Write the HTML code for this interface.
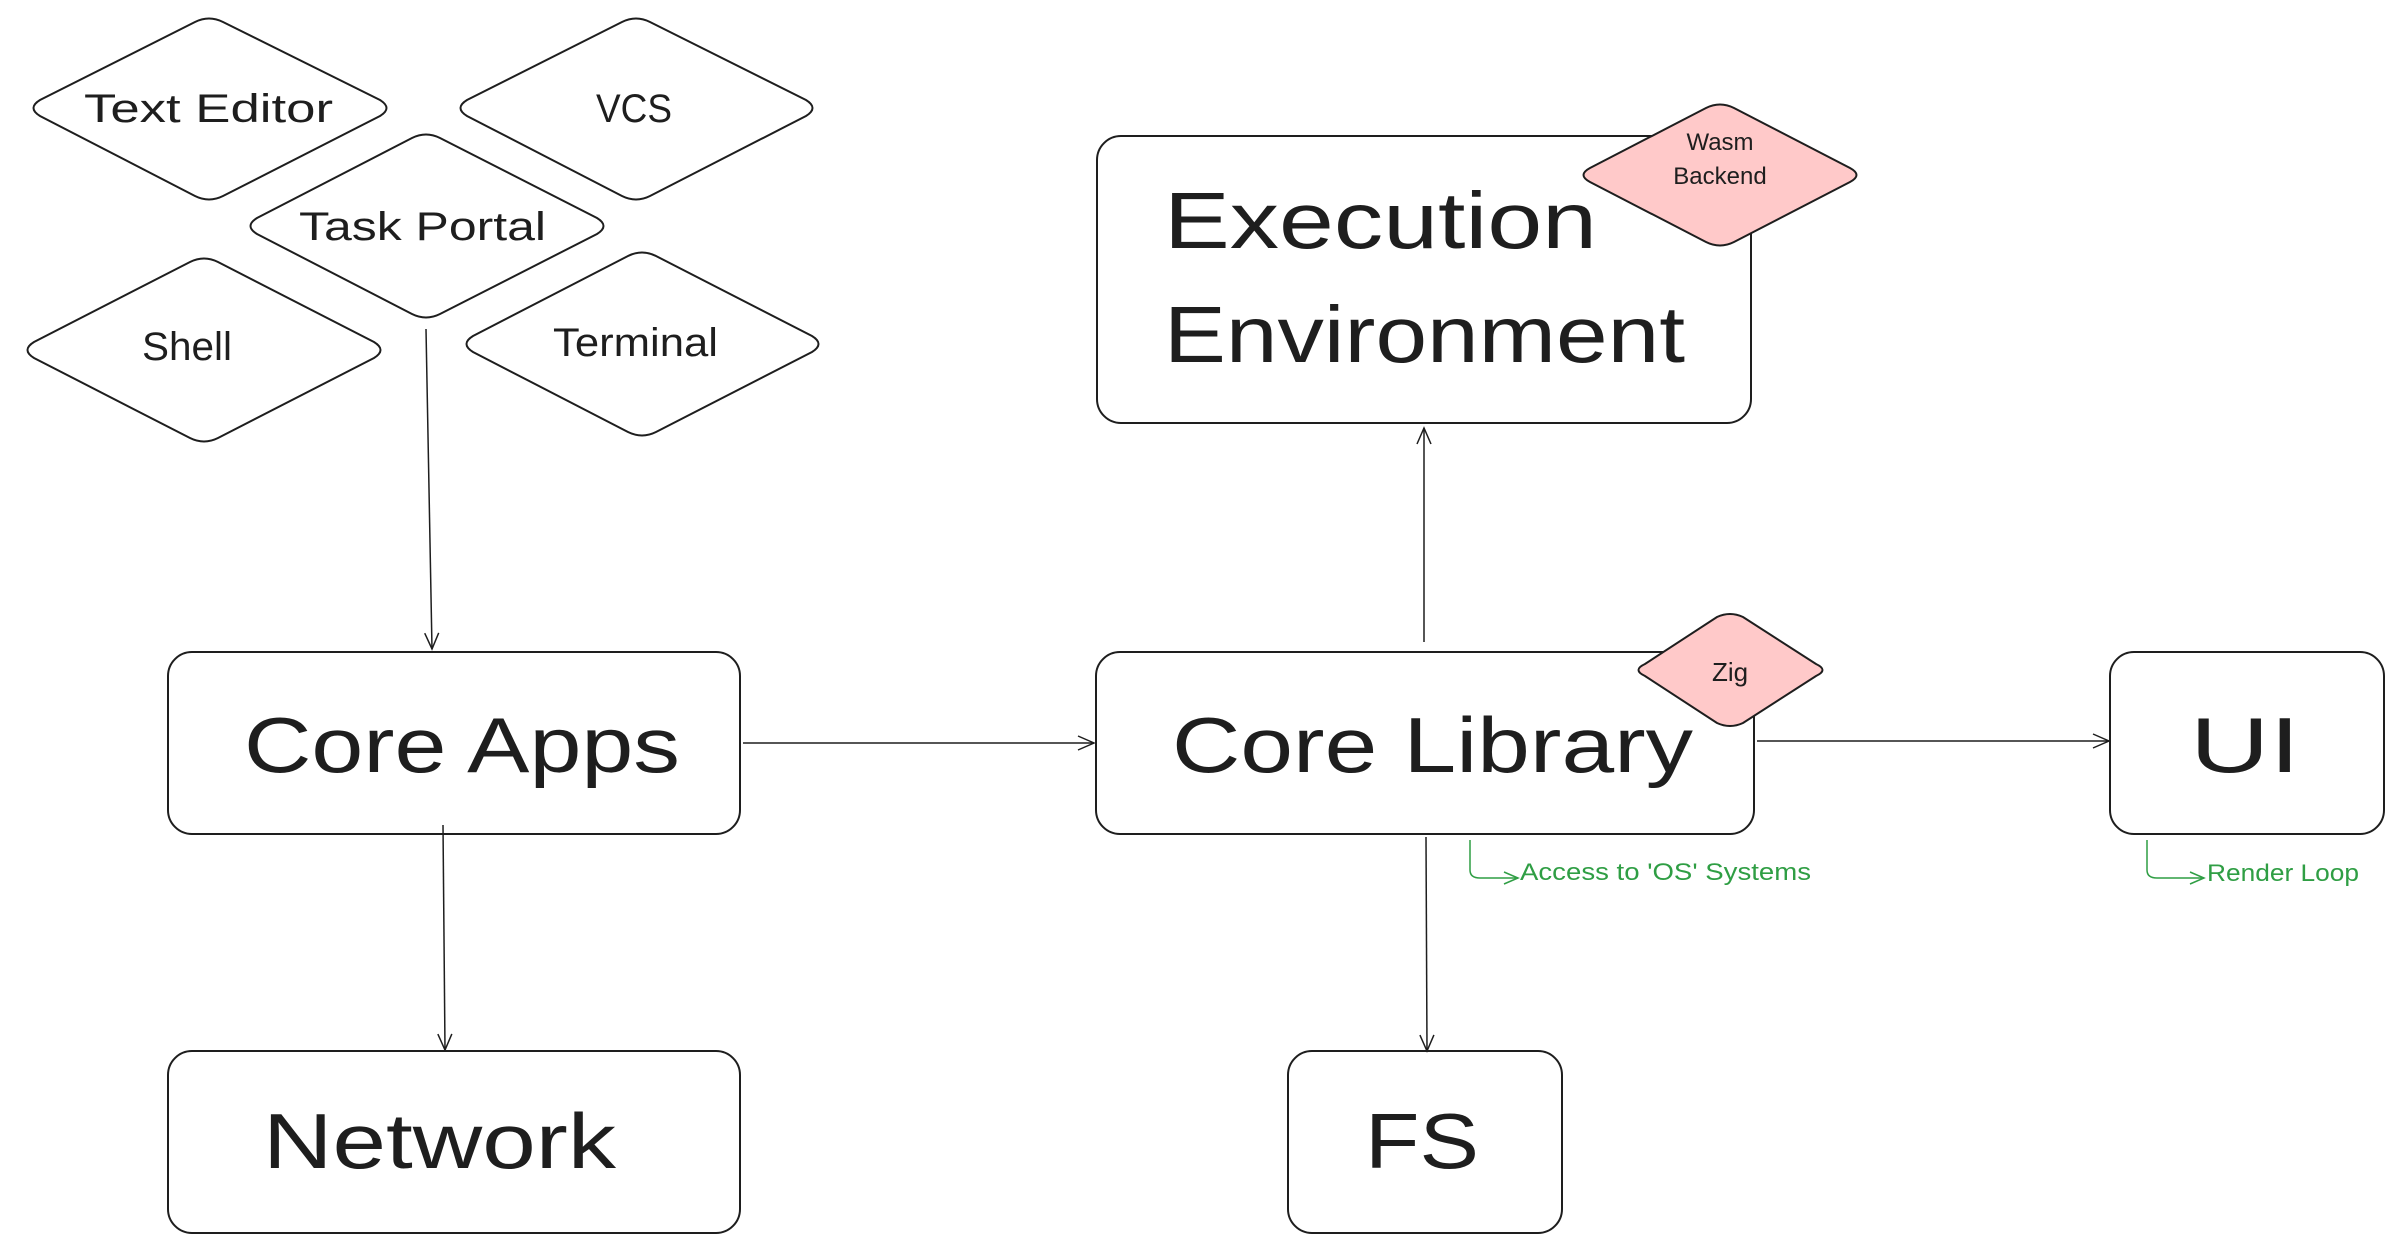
<!DOCTYPE html>
<html><head><meta charset="utf-8"><style>
html,body{margin:0;padding:0;background:#fff;}
svg{display:block;}
text{font-family:"Liberation Sans",sans-serif;fill:#1e1e1e;}
</style></head><body>
<svg width="2395" height="1245" viewBox="0 0 2395 1245" xmlns="http://www.w3.org/2000/svg">
<defs>
<marker id="a" markerWidth="20" markerHeight="20" refX="18" refY="10" orient="auto" markerUnits="userSpaceOnUse">
<path d="M2,3 L18,10 L2,17" fill="none" stroke="#1e1e1e" stroke-width="1.5"/></marker>
<marker id="g" markerWidth="20" markerHeight="20" refX="18" refY="10" orient="auto" markerUnits="userSpaceOnUse">
<path d="M4,4 L18,10 L4,16" fill="none" stroke="#2f9e44" stroke-width="1.5"/></marker>
</defs>
<g fill="#fff" stroke="#1e1e1e" stroke-width="2">
<path d="M40,100 Q27,108 40,116 L195,196 Q209,203 223,196 L380,116 Q393,108 380,100 L223,22 Q209,15 195,22 Z"/>
<path d="M467,100 Q454,108 467,116 L622,196 Q636,203 650,196 L806,116 Q819,108 806,100 L650,22 Q636,15 622,22 Z"/>
<path d="M257,218 Q244,226 257,234 L412,314 Q426,321 440,314 L597,234 Q610,226 597,218 L440,138 Q426,131 412,138 Z"/>
<path d="M34,342 Q21,350 34,358 L190,438 Q204,445 218,438 L374,358 Q387,350 374,342 L218,262 Q204,255 190,262 Z"/>
<path d="M473,336 Q460,344 473,352 L628,432 Q642,439 656,432 L812,352 Q825,344 812,336 L656,256 Q642,249 628,256 Z"/>
<rect x="1097" y="136" width="654" height="287" rx="24"/>
<rect x="168" y="652" width="572" height="182" rx="24"/>
<rect x="1096" y="652" width="658" height="182" rx="24"/>
<rect x="2110" y="652" width="274" height="182" rx="24"/>
<rect x="168" y="1051" width="572" height="182" rx="24"/>
<rect x="1288" y="1051" width="274" height="182" rx="24"/>
</g>
<g fill="#ffc9c9" stroke="#1e1e1e" stroke-width="2">
<path d="M1590,168 Q1577,175 1590,182 L1706,242 Q1720,249 1734,242 L1850,182 Q1863,175 1850,168 L1734,108 Q1720,101 1706,108 Z"/>
<path d="M1645,664 Q1632,670 1645,676 L1717,723 Q1730,729 1743,723 L1816,676 Q1829,670 1816,664 L1743,617 Q1730,611 1717,617 Z"/>
</g>
<g stroke="#1e1e1e" stroke-width="1.5" fill="none">
<line x1="426" y1="329" x2="432" y2="649" marker-end="url(#a)"/>
<line x1="443" y1="825" x2="445" y2="1050" marker-end="url(#a)"/>
<line x1="743" y1="743" x2="1094" y2="743" marker-end="url(#a)"/>
<line x1="1424" y1="642" x2="1424" y2="428" marker-end="url(#a)"/>
<line x1="1426" y1="837" x2="1427" y2="1051" marker-end="url(#a)"/>
<line x1="1757" y1="741" x2="2109" y2="741" marker-end="url(#a)"/>
</g>
<g stroke="#2f9e44" stroke-width="1.5" fill="none">
<path d="M1470,840 L1470,870 Q1470,878 1480,878 L1518,878" marker-end="url(#g)"/>
<path d="M2147,840 L2147,870 Q2147,878 2157,878 L2204,878" marker-end="url(#g)"/>
</g>
<g lengthAdjust="spacingAndGlyphs">
<text x="84" y="122" font-size="40" textLength="249" lengthAdjust="spacingAndGlyphs">Text Editor</text>
<text x="596" y="122" font-size="40" textLength="76" lengthAdjust="spacingAndGlyphs">VCS</text>
<text x="299" y="240" font-size="40" textLength="247" lengthAdjust="spacingAndGlyphs">Task Portal</text>
<text x="142" y="360" font-size="40" textLength="90" lengthAdjust="spacingAndGlyphs">Shell</text>
<text x="553" y="356" font-size="40" textLength="165" lengthAdjust="spacingAndGlyphs">Terminal</text>
<text x="1720" y="150" font-size="24" text-anchor="middle">Wasm</text>
<text x="1720" y="184" font-size="24" text-anchor="middle">Backend</text>
<text x="1730" y="681" font-size="26" text-anchor="middle">Zig</text>
<text x="1164" y="248" font-size="80" textLength="433" lengthAdjust="spacingAndGlyphs">Execution</text>
<text x="1164" y="362" font-size="80" textLength="521" lengthAdjust="spacingAndGlyphs">Environment</text>
<text x="244" y="772" font-size="78" textLength="436" lengthAdjust="spacingAndGlyphs">Core Apps</text>
<text x="1172" y="772" font-size="78" textLength="521" lengthAdjust="spacingAndGlyphs">Core Library</text>
<text x="2190" y="772" font-size="78" textLength="110" lengthAdjust="spacingAndGlyphs">UI</text>
<text x="263" y="1168" font-size="78" textLength="353" lengthAdjust="spacingAndGlyphs">Network</text>
<text x="1365" y="1168" font-size="78" textLength="114" lengthAdjust="spacingAndGlyphs">FS</text>
<text x="1520" y="880" font-size="24" textLength="291" lengthAdjust="spacingAndGlyphs" style="fill:#2f9e44">Access to 'OS' Systems</text>
<text x="2207" y="881" font-size="24" textLength="152" lengthAdjust="spacingAndGlyphs" style="fill:#2f9e44">Render Loop</text>
</g>
</svg>
</body></html>
